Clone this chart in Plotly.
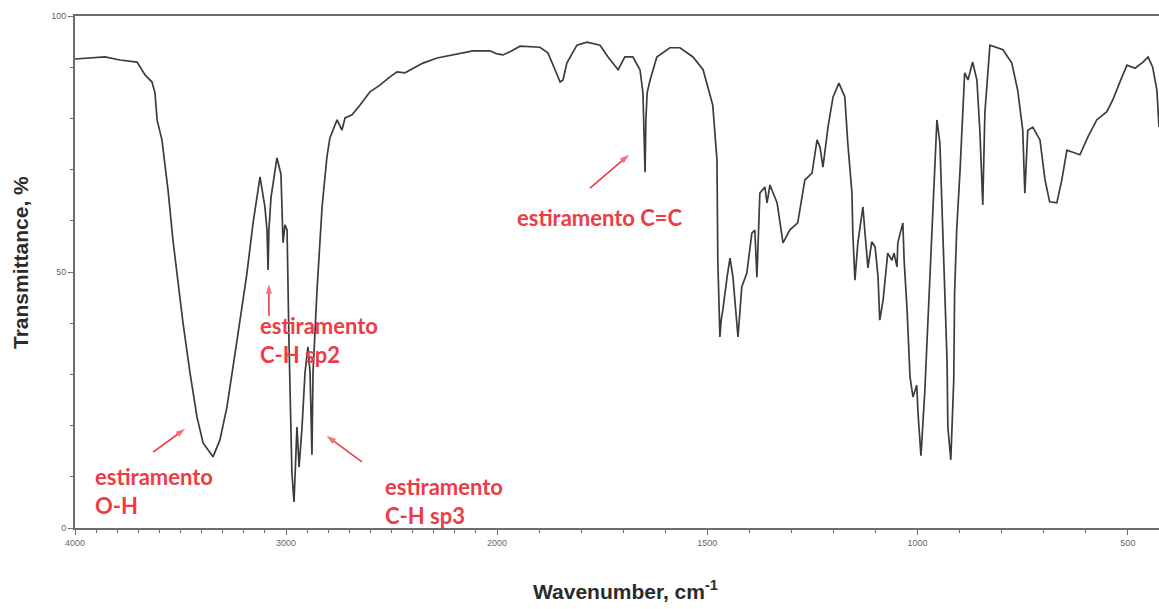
import plotly.graph_objects as go

# Spectrum values (wavenumber cm-1, transmittance %)
wavenumber = [4000, 3929, 3858, 3787, 3706, 3668, 3635, 3621, 3611, 3588, 3573, 3559, 3536, 3488, 3455,
              3422, 3393, 3346, 3313, 3280, 3232, 3185, 3156, 3123, 3100, 3090, 3085, 3081, 3071, 3043,
              3024, 3014, 3005, 2995, 2986, 2972, 2962, 2953, 2948, 2938, 2924, 2910, 2896, 2886, 2877,
              2872, 2853, 2829, 2806, 2792, 2758, 2735, 2720, 2687, 2649, 2602, 2555, 2507, 2474, 2436,
              2398, 2351, 2284, 2237, 2175, 2114, 2033, 2000,
              1986, 1969, 1945, 1898, 1879, 1862, 1850, 1843, 1834, 1810, 1786, 1755, 1736, 1712, 1696,
              1677, 1660, 1653, 1651, 1648, 1646, 1643, 1636, 1620, 1589, 1565, 1534, 1510, 1487, 1477,
              1475, 1470, 1467, 1463, 1453, 1446, 1439, 1427, 1418, 1406, 1394, 1387, 1382, 1375, 1363,
              1358, 1351, 1334, 1320, 1304, 1285, 1268, 1251, 1239, 1232, 1225, 1213, 1201, 1187, 1173,
              1166, 1156, 1154, 1149, 1142, 1130, 1125, 1118, 1109, 1101, 1094, 1090, 1082, 1075, 1071,
              1061, 1056, 1049, 1047, 1035, 1032, 1025, 1018, 1011, 1002, 999, 992, 983, 976, 966,
              954, 947, 940, 930, 928, 921, 914, 912, 907, 899, 888, 880, 873, 869, 859,
              852, 845, 840, 828, 797, 776, 762, 750, 745, 738, 726, 709, 697, 686, 669,
              657, 645, 631, 614, 595, 574, 550, 536, 514, 502, 483, 464, 452, 441, 431, 426]
transmittance = [91.6, 91.8, 92.0, 91.4, 91.0, 88.5, 87.1, 85.0, 79.7, 75.8, 70.5, 66.0, 56.3, 40.0, 30.3,
                 21.7, 16.6, 13.9, 17.2, 23.6, 36.7, 49.8, 59.6, 68.6, 62.7, 58.2, 50.4, 58.2, 64.6, 72.3,
                 69.1, 55.7, 59.2, 58.2, 36.7, 10.7, 5.1, 17.2, 19.7, 11.9, 19.7, 30.3, 35.4, 30.3, 14.3,
                 30.3, 46.5, 62.7, 72.5, 76.2, 79.7, 77.7, 80.1, 80.7, 82.6, 85.2, 86.5, 88.1, 89.1, 88.9,
                 89.8, 90.8, 91.8, 92.2, 92.8, 93.2, 93.2, 92.6,
                 92.4, 93.0, 94.1, 93.9, 92.8, 89.5, 87.1, 87.5, 90.8, 94.3, 94.9, 94.3, 92.0, 89.5, 92.0,
                 92.0, 89.5, 85.0, 79.7, 69.5, 79.7, 85.0, 87.5, 92.0, 93.8, 93.8, 92.0, 89.5, 82.6, 71.9,
                 52.3, 37.3, 40.6, 42.6, 49.0, 52.7, 49.0, 37.3, 47.1, 49.8, 57.6, 58.2, 49.0, 65.4, 66.6,
                 63.5, 67.0, 63.5, 55.7, 58.2, 59.6, 68.0, 69.3, 75.8, 74.4, 70.5, 78.3, 84.2, 86.9, 84.2,
                 75.2, 65.4, 57.6, 48.4, 55.7, 62.7, 57.6, 50.8, 55.9, 54.9, 49.0, 40.6, 44.5, 50.4, 53.7,
                 52.3, 53.7, 51.0, 55.7, 59.6, 52.3, 42.6, 29.5, 25.6, 27.9, 22.5, 14.1, 26.4, 39.3, 58.8,
                 79.7, 75.2, 58.8, 32.8, 19.7, 13.3, 28.9, 45.9, 58.2, 69.9, 88.9, 87.5, 89.8, 91.0, 87.5,
                 77.7, 63.1, 81.1, 94.3, 93.4, 90.8, 85.5, 77.7, 65.4, 77.7, 78.3, 75.8, 68.0, 63.7, 63.5,
                 68.0, 73.8, 73.4, 72.9, 76.4, 79.7, 81.3, 83.6, 88.1, 90.4, 89.8, 91.0, 92.0, 90.0, 85.5, 78.3]

x_ticks_high = [4000, 3000]
x_ticktext_high = ["4000", "3000"]
x_ticks_low = [2000, 1500, 1000, 500]
x_ticktext_low = ["2000", "1500", "1000", "500"]
y_ticks = [0, 50, 100]

# Band labels: text, axis, wavenumber, transmittance
band_labels = ["estiramento<br>O-H", "estiramento<br>C-H sp2", "estiramento<br>C-H sp3", "estiramento C=C"]
band_axes = ["x", "x", "x", "x2"]
band_label_wn = [3915, 3133, 2540, 1957]
band_label_t = [7.2, 36.7, 5.3, 60.7]
# Arrows pointing at bands: tail and head (wavenumber, transmittance)
arrow_tail_wn = [3630, 3081, 2640, 1779]
arrow_tail_t = [14.8, 41.4, 12.9, 66.4]
arrow_head_wn = [3478, 3081, 2808, 1686]
arrow_head_t = [19.4, 47.6, 18.0, 72.9]

hi_x = [w for w in wavenumber if w >= 2000]
hi_y = [t for w, t in zip(wavenumber, transmittance) if w >= 2000]
lo_x = [w for w in wavenumber if w <= 2000]
lo_y = [t for w, t in zip(wavenumber, transmittance) if w <= 2000]

LINE = "#3c3c3c"
AX = "#6e6e6e"
RED = "#ee3b45"

fig = go.Figure()
fig.add_trace(go.Scatter(x=hi_x, y=hi_y, mode="lines", line=dict(color=LINE, width=1.7),
                         xaxis="x", yaxis="y", showlegend=False, hoverinfo="skip"))
fig.add_trace(go.Scatter(x=lo_x, y=lo_y, mode="lines", line=dict(color=LINE, width=1.7),
                         xaxis="x2", yaxis="y", showlegend=False, hoverinfo="skip"))

for ax_name, tw, tt, hw, ht in zip(band_axes, arrow_tail_wn, arrow_tail_t, arrow_head_wn, arrow_head_t):
    fig.add_trace(go.Scatter(x=[tw, hw], y=[tt, ht], mode="lines+markers",
                             line=dict(color=RED, width=1.6),
                             marker=dict(symbol="arrow", angleref="previous", size=[0, 10], color=RED,
                                         line=dict(width=0)),
                             xaxis=ax_name, yaxis="y", showlegend=False, hoverinfo="skip"))

split = (497 - 75) / 1084
tickfont = dict(family="Liberation Sans, Arial", size=9, color="#666")
common_x = dict(showline=True, linecolor=AX, linewidth=2, mirror=True, showgrid=False, zeroline=False,
                ticks="outside", ticklen=5, tickcolor=AX, tickfont=tickfont,
                minor=dict(ticks="outside", ticklen=3, dtick=100, tick0=0, tickcolor=AX))
fig.update_layout(
    width=1159, height=609,
    margin=dict(l=75, r=0, t=16, b=81),
    paper_bgcolor="white", plot_bgcolor="white",
    xaxis=dict(domain=[0, split], range=[4000, 2000], tickvals=x_ticks_high, ticktext=x_ticktext_high,
               anchor="y", **common_x),
    xaxis2=dict(domain=[split, 1], range=[2000, 426], tickvals=x_ticks_low, ticktext=x_ticktext_low,
                anchor="y", **common_x),
    yaxis=dict(range=[0, 100], tickvals=y_ticks, showline=True, linecolor=AX, linewidth=2,
               showgrid=False, zeroline=False, ticks="outside", ticklen=5, tickcolor=AX, tickfont=tickfont,
               minor=dict(ticks="outside", ticklen=3, dtick=10, tickcolor=AX)),
)

fig.add_annotation(text="<b>Wavenumber, cm<sup>-1</sup></b>", xref="paper", yref="paper",
                   x=(625 - 75) / 1084, y=-(590 - 528) / 512, xanchor="center", yanchor="middle",
                   showarrow=False, font=dict(family="Liberation Sans, Arial", size=21, color="#2b2b2b"))
fig.add_annotation(text="<b>Transmittance, %</b>", xref="paper", yref="paper",
                   x=-(75 - 20) / 1084, y=(528 - 263) / 512, xanchor="center", yanchor="middle",
                   textangle=-90, showarrow=False,
                   font=dict(family="Liberation Sans, Arial", size=21, color="#2b2b2b"))

red_font = dict(family="Lato", size=22, color=RED, weight="bold")
for txt, xr, xv, yv in zip(band_labels, band_axes, band_label_wn, band_label_t):
    fig.add_annotation(text=txt, xref=xr, yref="y", x=xv, y=yv, xanchor="left", yanchor="middle",
                       align="left", showarrow=False, font=red_font)

fig.write_html("out.html")
